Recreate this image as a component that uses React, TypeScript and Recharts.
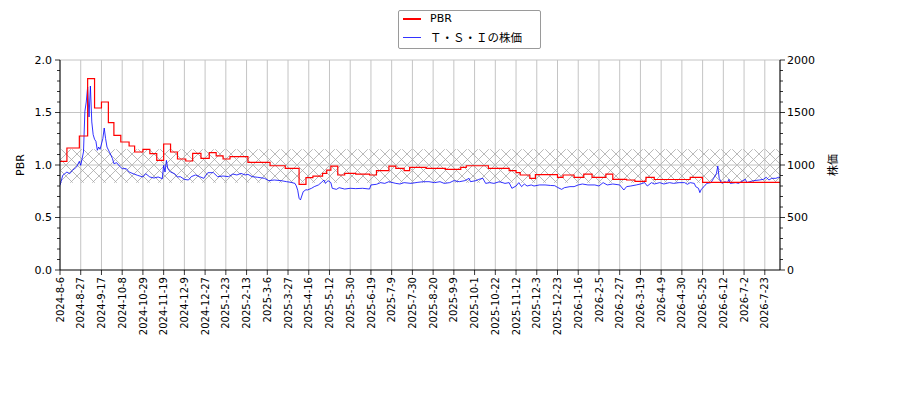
import React from 'react';
import { LineChart, Line, XAxis, YAxis, CartesianGrid, ReferenceArea, ReferenceLine } from 'recharts';

const dateLabels = [
  '2024-8-6', '2024-8-27', '2024-9-17', '2024-10-8', '2024-10-29', '2024-11-19', '2024-12-9', '2024-12-27',
  '2025-1-23', '2025-2-13', '2025-3-6', '2025-3-27', '2025-4-16', '2025-5-12', '2025-5-30', '2025-6-19',
  '2025-7-9', '2025-7-30', '2025-8-20', '2025-9-9', '2025-10-1', '2025-10-22', '2025-11-12', '2025-12-3',
  '2025-12-23', '2026-1-16', '2026-2-5', '2026-2-27', '2026-3-19', '2026-4-9', '2026-4-30', '2026-5-25',
  '2026-6-12', '2026-7-2', '2026-7-23',
];
const labelEvery = 15;
const lastIndex = 521;

// PBR: [trading-day index where the value starts, value]
const pbrSteps: [number, number][] = [
  [0, 1.035], [5, 1.162], [14, 1.276], [20, 1.822], [25, 1.543], [30, 1.6], [35, 1.403], [39, 1.283],
  [44, 1.219], [50, 1.181], [54, 1.124], [60, 1.149], [65, 1.108], [70, 1.044], [75, 1.2], [80, 1.124],
  [85, 1.057], [91, 1.038], [96, 1.111], [102, 1.063], [108, 1.117], [113, 1.086], [118, 1.057], [123, 1.079],
  [136, 1.025], [152, 0.993], [163, 0.968], [173, 0.816], [178, 0.879], [183, 0.895], [190, 0.92], [193, 0.952],
  [196, 0.99], [201, 0.905], [206, 0.92], [214, 0.914], [224, 0.905], [229, 0.946], [238, 0.99], [243, 0.968],
  [249, 0.946], [253, 0.978], [265, 0.968], [279, 0.959], [290, 0.978], [294, 0.993], [310, 0.968], [325, 0.946],
  [330, 0.927], [333, 0.905], [340, 0.873], [344, 0.908], [360, 0.883], [364, 0.905], [372, 0.883], [379, 0.914],
  [385, 0.883], [395, 0.914], [400, 0.863], [410, 0.857], [416, 0.845], [424, 0.883], [430, 0.862], [456, 0.883],
  [465, 0.835], [521, 0.835],
];

// Share price: [trading-day index, price]
const pricePoints: [number, number][] = [
  [0, 807], [2, 902], [5, 933], [7, 917], [9, 949], [12, 981], [14, 1035], [15, 997], [17, 1124], [18, 1511],
  [19, 1600], [20, 1743], [21, 1457], [22, 1752], [23, 1410], [24, 1289], [25, 1245], [26, 1225], [27, 1140],
  [28, 1171], [29, 1149], [31, 1251], [32, 1352], [33, 1251], [34, 1171], [36, 1117], [38, 1060], [39, 1013],
  [41, 1022], [43, 990], [45, 965], [48, 965], [50, 933], [53, 917], [56, 902], [60, 886], [62, 917], [65, 886],
  [68, 876], [71, 886], [74, 870], [75, 997], [76, 933], [77, 1044], [78, 965], [80, 933], [83, 917], [85, 886],
  [87, 889], [90, 863], [93, 857], [95, 889], [98, 905], [101, 889], [104, 873], [107, 927], [111, 927], [114, 889],
  [118, 895], [122, 889], [125, 914], [128, 905], [131, 920], [134, 905], [136, 911], [139, 889], [143, 883],
  [148, 873], [151, 851], [155, 857], [160, 851], [164, 841], [167, 835], [170, 825], [171, 800], [172, 760],
  [173, 683], [174, 667], [176, 746], [178, 765], [179, 762], [182, 778], [184, 794], [187, 810], [189, 832],
  [191, 857], [192, 825], [194, 851], [196, 832], [197, 778], [200, 768], [202, 784], [206, 771], [210, 778],
  [214, 775], [219, 778], [224, 771], [225, 810], [229, 816], [232, 832], [235, 825], [238, 841], [243, 825],
  [246, 819], [249, 832], [254, 825], [259, 835], [263, 841], [267, 841], [271, 832], [275, 841], [278, 825],
  [282, 832], [285, 851], [289, 841], [293, 851], [296, 873], [297, 841], [301, 851], [303, 863], [306, 873],
  [308, 825], [311, 832], [314, 825], [318, 841], [322, 825], [325, 832], [327, 778], [330, 800], [332, 832],
  [334, 794], [336, 819], [338, 800], [341, 810], [343, 800], [347, 810], [351, 810], [355, 805], [358, 803],
  [360, 787], [363, 768], [365, 784], [369, 794], [372, 794], [375, 810], [378, 819], [382, 810], [387, 810],
  [390, 800], [393, 832], [396, 810], [400, 819], [405, 810], [408, 762], [410, 794], [413, 800], [417, 810],
  [420, 819], [423, 832], [425, 800], [428, 832], [430, 819], [434, 832], [437, 819], [441, 832], [444, 825],
  [448, 832], [452, 832], [454, 816], [456, 832], [459, 825], [460, 794], [462, 778], [463, 737], [464, 768],
  [466, 794], [468, 825], [471, 832], [473, 873], [475, 920], [476, 990], [477, 873], [479, 825], [481, 841],
  [483, 832], [484, 863], [485, 825], [489, 832], [491, 825], [494, 851], [496, 863], [497, 832], [499, 841],
  [502, 851], [506, 857], [509, 863], [511, 883], [513, 857], [515, 873], [518, 873], [520, 883], [521, 880],
];

const pbrTicks = [0, 0.1, 0.2, 0.3, 0.4, 0.5, 0.6, 0.7, 0.8, 0.9, 1.0, 1.1, 1.2, 1.3, 1.4, 1.5, 1.6, 1.7, 1.8, 1.9, 2.0];
const pbrMajor = [0.5, 1.0, 1.5, 2.0];
const priceTicks = [0, 100, 200, 300, 400, 500, 600, 700, 800, 900, 1000, 1100, 1200, 1300, 1400, 1500, 1600, 1700, 1800, 1900, 2000];
const bandLow = 0.83;
const bandHigh = 1.15;

const pbrData = pbrSteps.map(([i, v]) => ({ i, pbr: v }));
const priceData = pricePoints.map(([i, p]) => ({ i, price: p }));
const xTicks = dateLabels.map((_, k) => k * labelEvery);

const FONT = '"DejaVu Sans", sans-serif';
const JP = '"Noto Sans CJK JP", "DejaVu Sans", sans-serif';

const XTick = (props: any) => {
  const { x, y, payload } = props;
  const label = dateLabels[Math.round(payload.value / labelEvery)];
  const ty = y + 7;
  return (
    <g>
      <line x1={x} x2={x} y1={y} y2={y + 5} stroke="#000" strokeWidth={0.8} />
      <text x={x} y={ty} transform={`rotate(-90 ${x} ${ty})`} textAnchor="end" dy="0.36em" fontSize={10} fontFamily={FONT} fill="#000">
        {label}
      </text>
    </g>
  );
};

const LeftTick = (props: any) => {
  const { x, y, payload } = props;
  const v = payload.value;
  const major = Math.abs(v * 2 - Math.round(v * 2)) < 1e-6;
  return (
    <g>
      <line x1={x} x2={x - (major ? 5 : 3)} y1={y} y2={y} stroke="#000" strokeWidth={0.8} />
      {major && (
        <text x={x - 8} y={y} dy="0.36em" textAnchor="end" fontSize={11} fontFamily={FONT} fill="#000">
          {v.toFixed(1)}
        </text>
      )}
    </g>
  );
};

const RightTick = (props: any) => {
  const { x, y, payload } = props;
  const v = payload.value;
  const major = v % 500 === 0;
  return (
    <g>
      <line x1={x} x2={x + (major ? 5 : 3)} y1={y} y2={y} stroke="#000" strokeWidth={0.8} />
      {major && (
        <text x={x + 7} y={y} dy="0.36em" textAnchor="start" fontSize={11} fontFamily={FONT} fill="#000">
          {v}
        </text>
      )}
    </g>
  );
};

const AxisTitle = (props: any) => {
  const { viewBox, text, dx, family } = props;
  const cx = viewBox.x + dx;
  const cy = viewBox.y + viewBox.height / 2;
  return (
    <text x={cx} y={cy} transform={`rotate(-90 ${cx} ${cy})`} textAnchor="middle" dy="0.36em" fontSize={11} fontFamily={family} fill="#000">
      {text}
    </text>
  );
};

export default function App() {
  return (
    <div style={{ position: 'absolute', left: 0, top: 0, width: 900, height: 400, background: '#fff' }}>
      <svg width={0} height={0} style={{ position: 'absolute' }}>
        <defs>
          <pattern id="hatch" patternUnits="userSpaceOnUse" width={11} height={11}>
            <path d="M0,0 L11,11 M11,0 L0,11" stroke="#a8a8a8" strokeWidth={0.8} fill="none" />
          </pattern>
        </defs>
      </svg>
      <LineChart width={900} height={400} margin={{ top: 60, right: 0, bottom: 0, left: 0 }}>
        <CartesianGrid horizontal={false} vertical stroke="#c4c4c4" strokeWidth={1} />
        <XAxis
          dataKey="i"
          type="number"
          domain={[0, lastIndex]}
          ticks={xTicks}
          interval={0}
          height={130}
          tickSize={0}
          tickMargin={0}
          tick={<XTick />}
          axisLine={{ stroke: '#000', strokeWidth: 1 }}
          allowDataOverflow
        />
        <YAxis
          yAxisId="left"
          orientation="left"
          type="number"
          domain={[0, 2]}
          ticks={pbrTicks}
          interval={0}
          width={60}
          tickSize={0}
          tickMargin={0}
          tick={<LeftTick />}
          axisLine={{ stroke: '#000', strokeWidth: 1 }}
          label={<AxisTitle text="PBR" dx={20} family={FONT} />}
        />
        <YAxis
          yAxisId="right"
          orientation="right"
          type="number"
          domain={[0, 2000]}
          ticks={priceTicks}
          interval={0}
          width={120}
          tickSize={0}
          tickMargin={0}
          tick={<RightTick />}
          axisLine={{ stroke: '#000', strokeWidth: 1 }}
          label={<AxisTitle text="株価" dx={53} family={JP} />}
        />
        <ReferenceArea yAxisId="left" y1={bandLow} y2={bandHigh} fill="url(#hatch)" fillOpacity={1} stroke="none" />
        {pbrMajor.map((v) => (
          <ReferenceLine key={v} yAxisId="left" y={v} stroke="#c4c4c4" strokeWidth={1} />
        ))}
        <Line
          yAxisId="right"
          data={priceData}
          dataKey="price"
          type="linear"
          stroke="#0000ff"
          strokeOpacity={0.8}
          strokeWidth={1}
          dot={false}
          activeDot={false}
          isAnimationActive={false}
        />
        <Line
          yAxisId="left"
          data={pbrData}
          dataKey="pbr"
          type="stepAfter"
          stroke="#ff0000"
          strokeWidth={1.2}
          dot={false}
          activeDot={false}
          isAnimationActive={false}
        />
      </LineChart>
      <div
        style={{
          position: 'absolute',
          left: 398,
          top: 10,
          width: 143,
          height: 39,
          border: '1px solid #9a9a9a',
          borderRadius: 2,
          background: '#fff',
          boxSizing: 'border-box',
        }}
      >
        <div style={{ position: 'absolute', left: 4, top: 7, width: 18, height: 1.5, background: '#ff0000' }} />
        <div style={{ position: 'absolute', left: 31, top: 0, height: 15, lineHeight: '15px', fontSize: 11, fontFamily: FONT, color: '#000' }}>
          PBR
        </div>
        <div style={{ position: 'absolute', left: 4, top: 26, width: 18, height: 1, background: '#0000ff', opacity: 0.8 }} />
        <div style={{ position: 'absolute', left: 31, top: 18, height: 17, lineHeight: '17px', fontSize: 11.5, fontFamily: JP, color: '#000', whiteSpace: 'nowrap' }}>
          Ｔ・Ｓ・Ｉの株価
        </div>
      </div>
    </div>
  );
}
